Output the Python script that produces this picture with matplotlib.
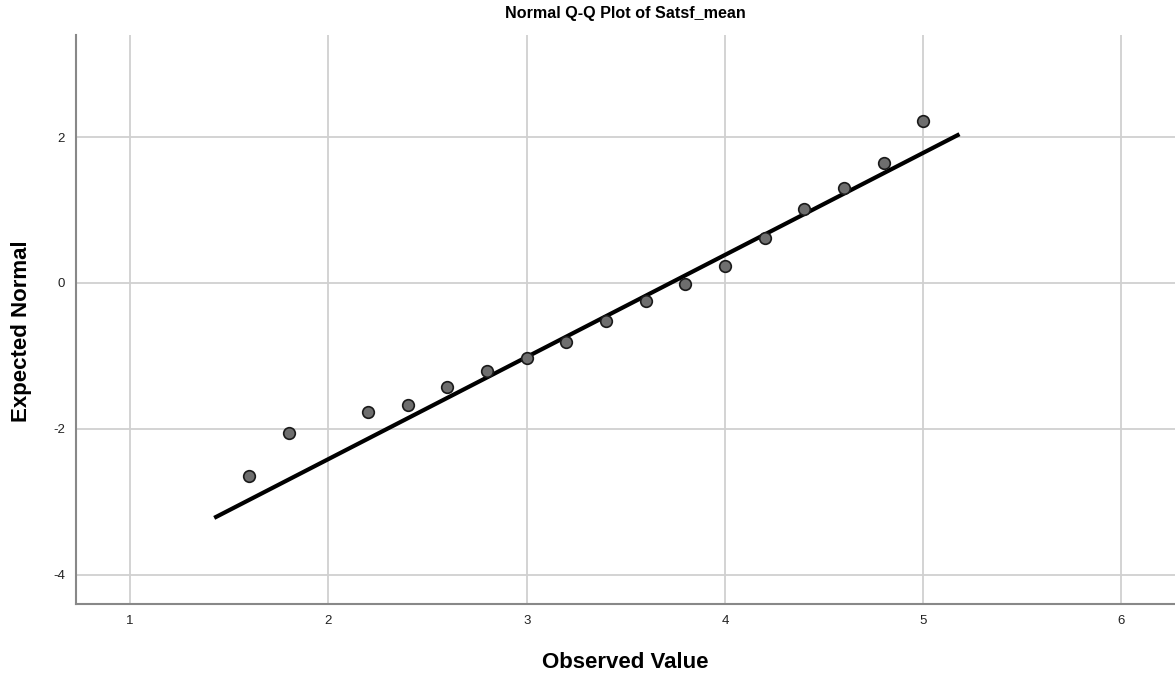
import matplotlib
matplotlib.use("Agg")
import matplotlib.pyplot as plt

observed = [1.6, 1.8, 2.2, 2.4, 2.6, 2.8, 3.0, 3.2, 3.4, 3.6, 3.8, 4.0, 4.2, 4.4, 4.6, 4.8, 5.0]
expected = [-2.65, -2.05, -1.77, -1.67, -1.43, -1.20, -1.03, -0.81, -0.52, -0.24,
            -0.02, 0.23, 0.62, 1.02, 1.30, 1.65, 2.22]

# reference line endpoints
line_x = [1.424, 5.183]
line_y = [-3.22, 2.04]

x_ticks = [1, 2, 3, 4, 5, 6]
y_ticks = [-4, -2, 0, 2]

plt.rcParams['font.family'] = ['Liberation Sans', 'DejaVu Sans']
plt.rcParams['axes.unicode_minus'] = False

fig = plt.figure(figsize=(11.75, 6.79), dpi=100)
ax = fig.add_axes([0.0647, 0.1105, 0.9353, 0.838])

ax.set_xlim(0.727, 6.27)
ax.set_ylim(-4.40, 3.40)
ax.set_xticks(x_ticks)
ax.set_yticks(y_ticks)
ax.grid(True, color='#d0d0d0', linewidth=1.3)
ax.set_axisbelow(True)
ax.tick_params(length=0, labelsize=9.5, colors='#222222', pad=8)

for side in ['top', 'right']:
    ax.spines[side].set_visible(False)
for side in ['left', 'bottom']:
    ax.spines[side].set_color('#888888')
    ax.spines[side].set_linewidth(1.5)

ax.plot(line_x, line_y, color='black', linewidth=3, solid_capstyle='butt', zorder=2)
ax.scatter(observed, expected, s=70, color='#6e6e6e', edgecolors='#1a1a1a',
           linewidths=1.2, zorder=3)

ax.set_title('Normal Q-Q Plot of Satsf_mean', fontsize=11.6, fontweight='bold', pad=12)
ax.set_xlabel('Observed Value', fontsize=16, fontweight='bold', labelpad=18)
ax.set_ylabel('Expected Normal', fontsize=16, fontweight='bold')
ax.yaxis.set_label_coords(-0.040, 0.48)

fig.savefig('out.png', dpi=100)
